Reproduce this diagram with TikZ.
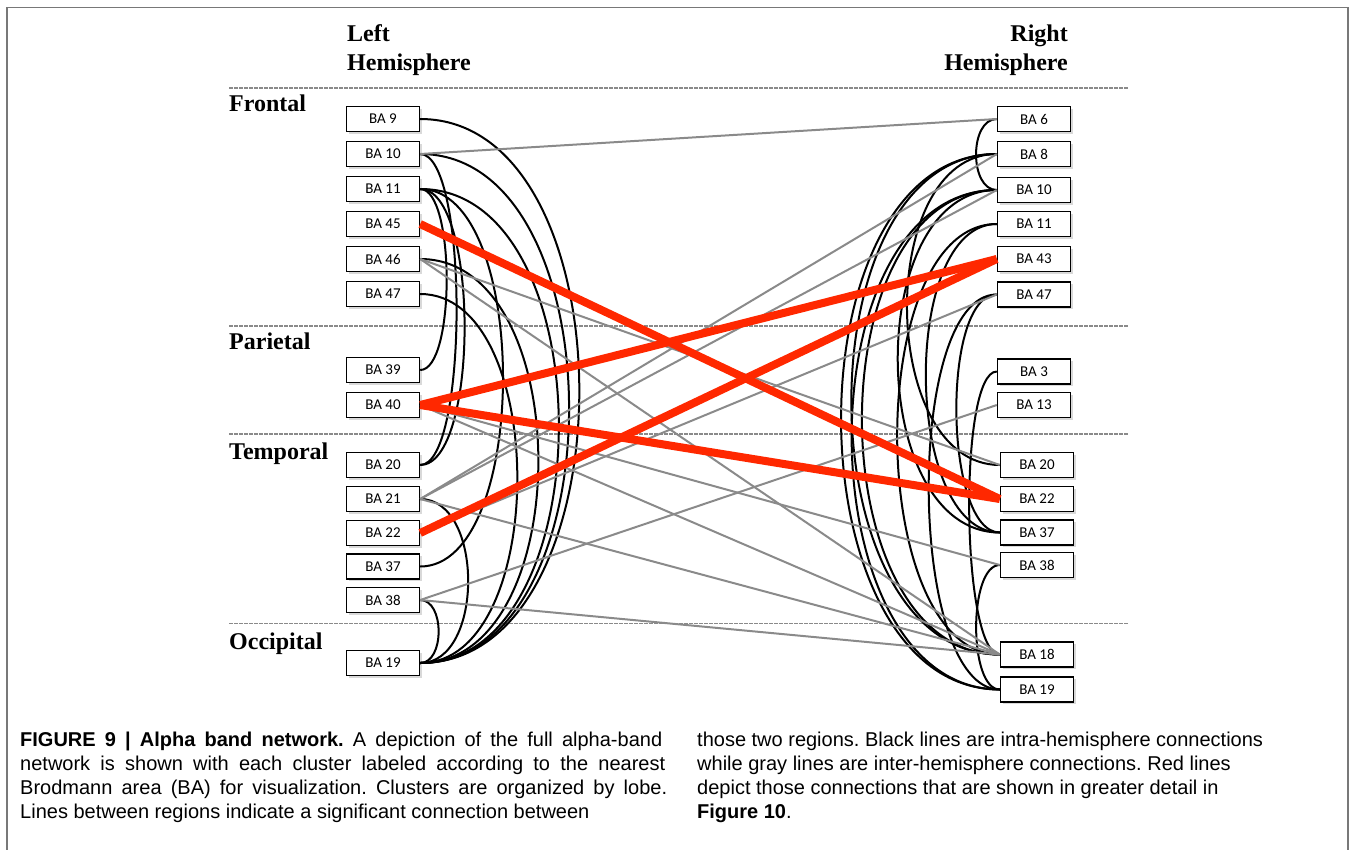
\documentclass[tikz,border=0pt]{standalone}
\usepackage{fontspec}
\setmainfont{Liberation Serif}
\newfontfamily\boxfont{Carlito}
\newfontfamily\capfont{Liberation Sans}
\usetikzlibrary{shadows}
\frenchspacing

\definecolor{focusred}{RGB}{255,40,0}
\definecolor{intergray}{RGB}{138,138,138}
\definecolor{framegray}{RGB}{120,120,120}

\tikzset{
  area/.style={draw=black, line width=1.4pt, fill=white, minimum width=73pt,
    minimum height=25pt, inner sep=0pt, font=\boxfont\fontsize{15}{15}\selectfont,
    drop shadow={opacity=0.3, shadow xshift=2pt, shadow yshift=-2pt}},
  lobe/.style={anchor=base west, inner sep=0pt, font=\bfseries\fontsize{24}{24}\selectfont},
  divider/.style={intergray, line width=1.2pt, dash pattern=on 3.5pt off 1.5pt},
  intra/.style={black, line width=2pt},
  inter/.style={intergray, line width=2pt},
  focus/.style={focusred, line width=8pt},
  capline/.style={anchor=base west, inner sep=0pt, font=\capfont\fontsize{20}{24}\selectfont}
}

\begin{document}
\begin{tikzpicture}[x=1pt, y=-1pt]

\useasboundingbox (0,0) rectangle (1355,849);

% Frame round the figure
\draw[framegray, line width=1.5pt] (7,860) -- (7,7.5) -- (1348,7.5) -- (1348,860);

% Headers
\node[lobe] (lhead) at (347,41.7) {Left};
\node[lobe] (lhemi) at (347,70.5) {Hemisphere};
\node[lobe, anchor=base east] (rhead) at (1068,41.7) {Right};
\node[lobe, anchor=base east] (rhemi) at (1068,70.5) {Hemisphere};

% Lobe dividers
\draw[divider] (229,88) -- (1128,88);
\draw[divider] (229,326) -- (1128,326);
\draw[divider] (229,434) -- (1128,434);
\draw[divider] (229,623.5) -- (1128,623.5);

% Lobe names
\node[lobe] (frontal) at (229,111) {Frontal};
\node[lobe] (parietal) at (229,349) {Parietal};
\node[lobe] (temporal) at (229,459) {Temporal};
\node[lobe] (occipital) at (229,649) {Occipital};

% Left hemisphere clusters
\node[area] (lba9) at (383,119) {BA 9};
\node[area] (lba10) at (383,154) {BA 10};
\node[area] (lba11) at (383,189) {BA 11};
\node[area] (lba45) at (383,224) {BA 45};
\node[area] (lba46) at (383,259) {BA 46};
\node[area] (lba47) at (383,294) {BA 47};
\node[area] (lba39) at (383,370) {BA 39};
\node[area] (lba40) at (383,405) {BA 40};
\node[area] (lba20) at (383,465) {BA 20};
\node[area] (lba21) at (383,499) {BA 21};
\node[area] (lba22) at (383,533) {BA 22};
\node[area] (lba37) at (383,566.5) {BA 37};
\node[area] (lba38) at (383,600) {BA 38};
\node[area] (lba19) at (383,663) {BA 19};

% Right hemisphere clusters
\node[area] (rba6) at (1034,119) {BA 6};
\node[area] (rba8) at (1034,154) {BA 8};
\node[area] (rba10) at (1034,190) {BA 10};
\node[area] (rba11) at (1034,224) {BA 11};
\node[area] (rba43) at (1034,259) {BA 43};
\node[area] (rba47) at (1034,294.5) {BA 47};
\node[area] (rba3) at (1034,371.5) {BA 3};
\node[area] (rba13) at (1034,405) {BA 13};
\node[area] (rba20) at (1037,465) {BA 20};
\node[area] (rba22) at (1037,499) {BA 22};
\node[area] (rba37) at (1037,532.5) {BA 37};
\node[area] (rba38) at (1037,565) {BA 38};
\node[area] (rba18) at (1037,654.5) {BA 18};
\node[area] (rba19) at (1037,689.5) {BA 19};

% Intra-hemisphere links, left side
\draw[intra] (lba9.east) to[out=0, in=0] (lba19.east);
\draw[intra] (lba10.east) to[out=0, in=0] (lba19.east);
\draw[intra] (lba10.east) to[out=0, in=0, looseness=0.4] (lba20.east);
\draw[intra] (lba11.east) to[out=0, in=0] (lba19.east);
\draw[intra] (lba11.east) to[out=0, in=0, looseness=0.55] (lba20.east);
\draw[intra] (lba11.east) to[out=0, in=0, looseness=0.75] (lba37.east);
\draw[intra] (lba11.east) to[out=0, in=0, looseness=0.5] (lba39.east);
\draw[intra] (lba46.east) to[out=0, in=0] (lba19.east);
\draw[intra] (lba47.east) to[out=0, in=0, looseness=0.9] (lba19.east);
\draw[intra] (lba21.east) to[out=0, in=0] (lba19.east);
\draw[intra] (lba38.east) to[out=0, in=0] (lba19.east);

% Intra-hemisphere links, right side
\draw[intra] (rba6.west) to[out=180, in=180] (rba10.west);
\draw[intra] (rba8.west) to[out=180, in=180] (rba18.west);
\draw[intra] (rba8.west) to[out=180, in=180] (rba19.west);
\draw[intra] (rba8.west) to[out=180, in=180] (rba20.west);
\draw[intra] (rba10.west) to[out=180, in=180] (rba18.west);
\draw[intra] (rba10.west) to[out=180, in=180] (rba19.west);
\draw[intra] (rba10.west) to[out=180, in=180] (rba37.west);
\draw[intra] (rba11.west) to[out=180, in=180, looseness=0.8] (rba18.west);
\draw[intra] (rba11.west) to[out=180, in=180, looseness=0.8] (rba37.west);
\draw[intra] (rba47.west) to[out=180, in=180, looseness=0.6] (rba19.west);
\draw[intra] (rba47.west) to[out=180, in=180, looseness=0.6] (rba37.west);
\draw[intra] (rba3.west) to[out=180, in=180, looseness=0.35] (rba18.west);
\draw[intra] (rba38.west) to[out=180, in=180, looseness=0.65] (rba19.west);

% Inter-hemisphere links
\draw[inter] (lba10.east) -- (rba6.west);
\draw[inter] (lba46.east) -- (rba20.west);
\draw[inter] (lba46.east) -- (rba18.west);
\draw[inter] (lba40.east) -- (rba38.west);
\draw[inter] (lba40.east) -- (rba18.west);
\draw[inter] (lba21.east) -- (rba8.west);
\draw[inter] (lba21.east) -- (rba10.west);
\draw[inter] (lba21.east) -- (rba18.west);
\draw[inter] (lba22.east) -- (rba47.west);
\draw[inter] (lba38.east) -- (rba13.west);
\draw[inter] (lba38.east) -- (rba18.west);

% Links shown in Figure 10
\draw[focus] (lba45.east) -- (rba22.west);
\draw[focus] (lba40.east) -- (rba43.west);
\draw[focus] (lba40.east) -- (rba22.west);
\draw[focus] (lba22.east) -- (rba43.west);

% Caption
\node[capline] (capa) at (20,746) {\makebox[642pt][s]{\textbf{FIGURE 9 | Alpha band network.} A depiction of the full alpha-band}};
\node[capline] (capb) at (20,770) {\makebox[645pt][s]{network is shown with each cluster labeled according to the nearest}};
\node[capline] (capc) at (20,794) {\makebox[647pt][s]{Brodmann area (BA) for visualization. Clusters are organized by lobe.}};
\node[capline] (capd) at (20,818) {Lines between regions indicate a significant connection between};
\node[capline] (cape) at (697,746) {those two regions. Black lines are intra-hemisphere connections};
\node[capline] (capf) at (697,770) {while gray lines are inter-hemisphere connections. Red lines};
\node[capline] (capg) at (697,794) {depict those connections that are shown in greater detail in};
\node[capline] (caph) at (697,818) {\textbf{Figure 10}.};

\end{tikzpicture}
\end{document}
